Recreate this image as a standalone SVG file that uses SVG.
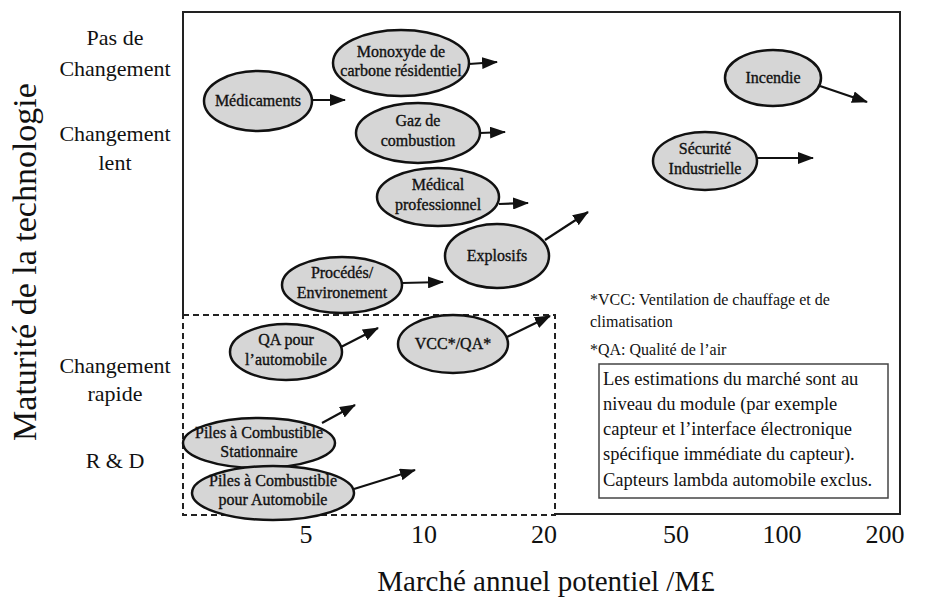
<svg xmlns="http://www.w3.org/2000/svg" width="925" height="597" viewBox="0 0 925 597" font-family="'Liberation Serif', 'DejaVu Serif', serif">
<defs>
<marker id="ah" markerWidth="16" markerHeight="12" refX="15" refY="6" orient="auto" markerUnits="userSpaceOnUse">
<path d="M0,0 L16,6 L0,12 Z" fill="#111"/>
</marker>
<style>
text{font-family:'Liberation Serif','DejaVu Serif',serif;fill:#111}
.node ellipse{fill:#d6d6d6;stroke:#111;stroke-width:2.5}
.node text{font-size:16px;text-anchor:middle;stroke:#111;stroke-width:0.35}
.conn line{stroke:#111;stroke-width:2.2;marker-end:url(#ah)}
.ylab text{font-size:22px;text-anchor:middle}
.tick text{font-size:26px;text-anchor:middle}
</style>
</defs>
<rect width="925" height="597" fill="#fff"/>

<!-- frame -->
<path d="M183,315 L183,12 L900,12 L900,514 L555,514" fill="none" stroke="#222" stroke-width="2"/>
<rect x="183" y="315" width="372" height="200" fill="none" stroke="#222" stroke-width="2" stroke-dasharray="6,4"/>

<!-- axis labels -->
<text transform="translate(36,262) rotate(-90)" font-size="34" text-anchor="middle">Maturité de la technologie</text>
<g class="ylab">
<text x="115" y="45">Pas de</text>
<text x="115" y="76">Changement</text>
<text x="115" y="141">Changement</text>
<text x="115" y="170">lent</text>
<text x="115" y="373">Changement</text>
<text x="115" y="401">rapide</text>
<text x="115" y="468">R &amp; D</text>
</g>
<g class="tick">
<text x="306" y="543">5</text>
<text x="424" y="543">10</text>
<text x="544" y="543">20</text>
<text x="676" y="543">50</text>
<text x="782" y="543">100</text>
<text x="885" y="543">200</text>
</g>
<text x="546" y="591" font-size="29" text-anchor="middle">Marché annuel potentiel /M£</text>

<!-- legend -->
<g id="legend">
<text x="590" y="305" font-size="16">*VCC: Ventilation de chauffage et de</text>
<text x="590" y="327" font-size="16">climatisation</text>
<text x="590" y="355" font-size="16">*QA: Qualité de l’air</text>
<rect x="599" y="364" width="289" height="134" fill="#fff" stroke="#444" stroke-width="1.5"/>
<g font-size="18.5">
<text x="603" y="385">Les estimations du marché sont au</text>
<text x="603" y="410">niveau du module (par exemple</text>
<text x="603" y="435">capteur et l’interface électronique</text>
<text x="603" y="460">spécifique immédiate du capteur).</text>
<text x="603" y="486">Capteurs lambda automobile exclus.</text>
</g>
</g>

<!-- connectors -->
<g id="connectors" class="conn">
<line x1="312" y1="100" x2="345" y2="100"/>
<line x1="469" y1="64" x2="497" y2="62"/>
<line x1="480" y1="133" x2="505" y2="132"/>
<line x1="499" y1="204" x2="528" y2="203"/>
<line x1="545" y1="240" x2="588" y2="212"/>
<line x1="402" y1="283" x2="443" y2="282"/>
<line x1="341" y1="347" x2="378" y2="328"/>
<line x1="507" y1="337" x2="550" y2="316"/>
<line x1="322" y1="423" x2="355" y2="405"/>
<line x1="354" y1="489" x2="415" y2="470"/>
<line x1="820" y1="86" x2="867" y2="102"/>
<line x1="757" y1="158" x2="813" y2="158"/>
</g>

<!-- nodes -->
<g id="n-medicaments" class="node"><ellipse cx="258" cy="101" rx="54" ry="30"/><text x="258" y="106">Médicaments</text></g>
<g id="n-monoxyde" class="node"><ellipse cx="401" cy="63" rx="68" ry="33"/><text x="401" y="57">Monoxyde de</text><text x="401" y="76">carbone résidentiel</text></g>
<g id="n-gaz" class="node"><ellipse cx="418" cy="133" rx="62" ry="30"/><text x="418" y="126">Gaz de</text><text x="418" y="146">combustion</text></g>
<g id="n-medical" class="node"><ellipse cx="438" cy="197" rx="61" ry="29"/><text x="438" y="190">Médical</text><text x="438" y="210">professionnel</text></g>
<g id="n-explosifs" class="node"><ellipse cx="497" cy="256" rx="52" ry="32"/><text x="497" y="261">Explosifs</text></g>
<g id="n-procedes" class="node"><ellipse cx="342" cy="285" rx="60" ry="28"/><text x="342" y="278">Procédés/</text><text x="342" y="298">Environement</text></g>
<g id="n-qa" class="node"><ellipse cx="286" cy="352" rx="56" ry="28"/><text x="286" y="345">QA pour</text><text x="286" y="365">l’automobile</text></g>
<g id="n-vcc" class="node"><ellipse cx="453" cy="344" rx="55" ry="29"/><text x="453" y="349">VCC*/QA*</text></g>
<g id="n-piles-stat" class="node"><ellipse cx="259" cy="443" rx="76" ry="25"/><text x="259" y="438">Piles à Combustible</text><text x="259" y="457">Stationnaire</text></g>
<g id="n-piles-auto" class="node"><ellipse cx="273" cy="493" rx="81" ry="27"/><text x="273" y="486">Piles à Combustible</text><text x="273" y="505">pour Automobile</text></g>
<g id="n-incendie" class="node"><ellipse cx="773" cy="78" rx="48" ry="28"/><text x="773" y="83">Incendie</text></g>
<g id="n-securite" class="node"><ellipse cx="705" cy="161" rx="52" ry="29"/><text x="705" y="154">Sécurité</text><text x="705" y="174">Industrielle</text></g>
</svg>
